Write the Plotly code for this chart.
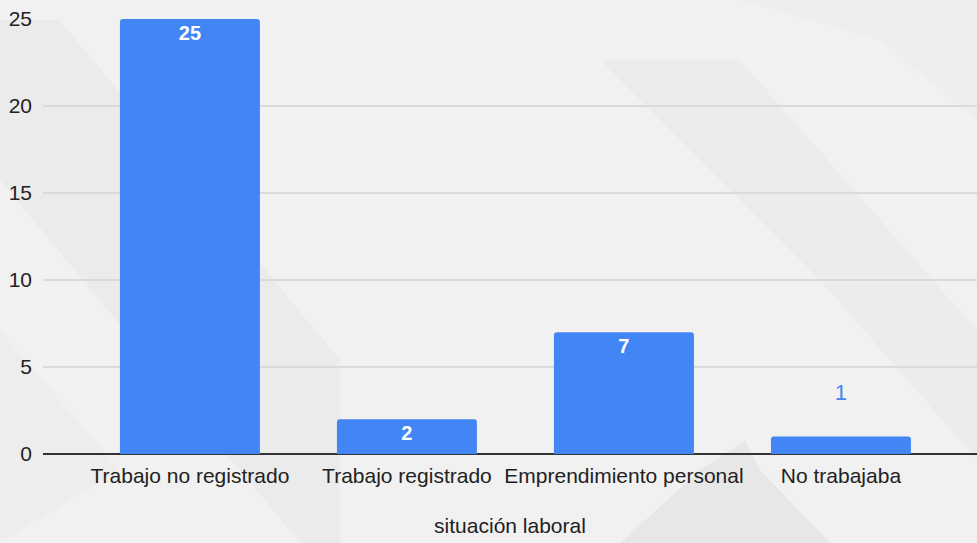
import plotly.graph_objects as go

categories = ["Trabajo no registrado", "Trabajo registrado", "Emprendimiento personal", "No trabajaba"]
values = [25, 2, 7, 1]
y_ticks = [0, 5, 10, 15, 20, 25]
x_title = "situación laboral"

BLUE = "#4285F4"
W, H = 977, 543
FONT = "Liberation Sans, Arial, sans-serif"

l, r, t, b = 43, 0, 19, 89
pw = W - l - r
ph = H - t - b

fits_inside = [v >= 2 for v in values]

fig = go.Figure()
fig.add_trace(go.Bar(
    x=categories, y=values,
    marker=dict(color=BLUE, line=dict(width=0)),
    width=0.645,
    text=[str(v) if f else f"{v}<br> " for v, f in zip(values, fits_inside)],
    textposition=["inside" if f else "outside" for f in fits_inside],
    insidetextanchor="end",
    textangle=0,
    insidetextfont=dict(color="white", size=20, family=FONT, weight="bold"),
    outsidetextfont=dict(color=BLUE, size=22, family=FONT),
    cliponaxis=False,
    hoverinfo="x+y",
))


def poly_px(pts, color):
    path = "M " + " L ".join(f"{(x - l)/pw:.4f},{(H - b - y)/ph:.4f}" for x, y in pts) + " Z"
    return dict(type="path", xref="paper", yref="paper", path=path,
                fillcolor=color, line=dict(width=0), layer="below")


shapes = [
    poly_px([(0, 20), (60, 20), (340, 360), (340, 543), (300, 543), (0, 180)], "rgba(0,0,0,0.022)"),
    poly_px([(0, 330), (120, 470), (0, 543)], "rgba(0,0,0,0.015)"),
    poly_px([(600, 60), (740, 60), (977, 330), (977, 460), (820, 280)], "rgba(0,0,0,0.018)"),
    poly_px([(700, 470), (745, 440), (760, 470), (830, 543), (620, 543)], "rgba(0,0,0,0.04)"),
    poly_px([(740, 0), (977, 0), (977, 120), (880, 40)], "rgba(0,0,0,0.012)"),
]

fig.update_layout(
    width=W, height=H,
    margin=dict(l=l, r=r, t=t, b=b, pad=0),
    paper_bgcolor="#f1f1f1",
    plot_bgcolor="rgba(0,0,0,0)",
    font=dict(family=FONT, size=21, color="#222222"),
    showlegend=False,
    barcornerradius=3,
    shapes=shapes,
    xaxis=dict(
        range=[-0.677, 3.627],
        showgrid=False,
        showline=False,
        ticks="",
        ticklabelstandoff=7,
        tickfont=dict(size=21, color="#222222", family=FONT),
        title=dict(text=x_title, font=dict(size=21, color="#222222", family=FONT), standoff=32),
        fixedrange=True,
    ),
    yaxis=dict(
        range=[0, 25],
        tickvals=y_ticks,
        showgrid=True,
        gridcolor="#dadada",
        gridwidth=1.5,
        zeroline=True,
        zerolinecolor="#333333",
        zerolinewidth=1.5,
        showline=False,
        ticks="",
        ticklabelstandoff=10,
        tickfont=dict(size=21, color="#222222", family=FONT),
        fixedrange=True,
    ),
)

fig.write_html("out.html", config={"displayModeBar": False},
               post_script="document.body.style.margin='0';")
